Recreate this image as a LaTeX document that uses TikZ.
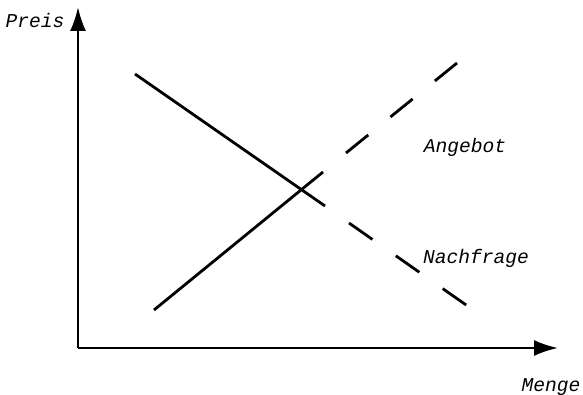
\documentclass[tikz,border=0pt]{standalone}
\usepackage{fontspec}
\setmonofont{Liberation Mono}
\usepackage{tikz}
\usetikzlibrary{arrows.meta, positioning}

\begin{document}
\begin{tikzpicture}[
    x=0.5pt, y=-0.5pt,
    achse/.style={line width=1.2pt, -{Latex[length=12pt, width=8pt]}},
    kurve/.style={line width=1.4pt},
    strich/.style={kurve, dash pattern=on 14.3pt off 14.3pt},
    lab/.style={font=\ttfamily\itshape\fontsize{9.8}{12}\selectfont, inner sep=0pt}
]
\useasboundingbox (0,0) rectangle (583,395);

% --- Achsen ---
\coordinate (O)  at (78,348);
\coordinate (yA) at (78,7);
\coordinate (xA) at (558,348);
\draw[achse] (O) -- (yA);
\draw[achse] (O) -- (xA);

\node[lab] (preis) at (35,20)  {Preis};
\node[lab] (menge) at (551,387) {Menge};

% --- Angebot ---
\coordinate (a0) at (154,310);
\coordinate (a1) at (323,172);
\coordinate (a2) at (346,153);
\coordinate (a3) at (457,63);
\draw[kurve]  (a0) -- (a1);
\draw[strich] (a2) -- (a3);
\node[lab] (angebot) at (465,147) {Angebot};

% --- Nachfrage ---
\coordinate (n0) at (135,74);
\coordinate (n1) at (325,206);
\coordinate (n2) at (349,223);
\coordinate (n3) at (469,307);
\draw[kurve]  (n0) -- (n1);
\draw[strich] (n2) -- (n3);
\node[lab] (nachfrage) at (476,258) {Nachfrage};

\end{tikzpicture}
\end{document}
